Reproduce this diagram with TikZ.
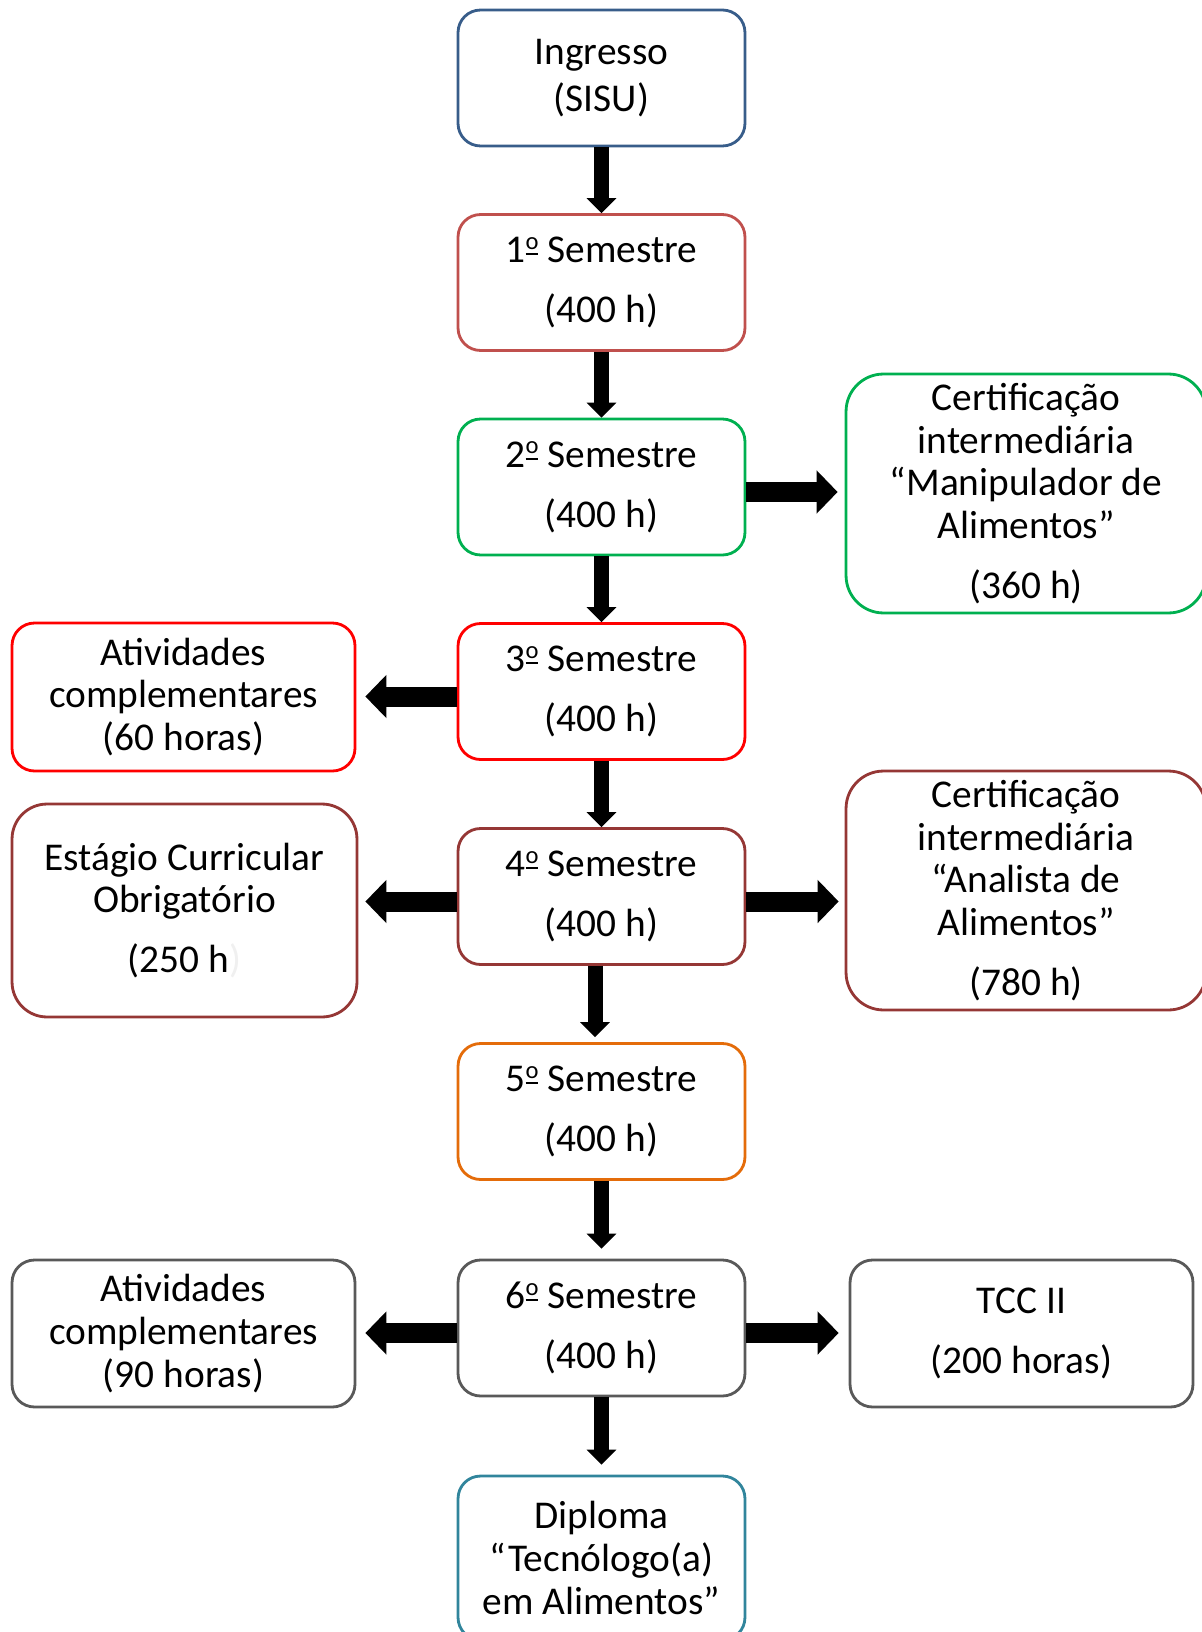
\documentclass[tikz,border=0pt]{standalone}
\usepackage{fontspec}
\setmainfont{Carlito}
\usetikzlibrary{arrows.meta}

\definecolor{ingblue}{RGB}{56,93,138}
\definecolor{semred}{RGB}{192,80,77}
\definecolor{semgreen}{RGB}{0,176,80}
\definecolor{brightred}{RGB}{255,0,0}
\definecolor{darkbrown}{RGB}{149,55,53}
\definecolor{semorange}{RGB}{228,108,10}
\definecolor{darkgray}{RGB}{89,89,89}
\definecolor{dipteal}{RGB}{49,133,156}

% underlined ordinal sign
\newcommand{\ordmark}{\rlap{\rule[4.3pt]{7.2pt}{0.9pt}}\raisebox{7.6pt}{\fontsize{14}{14}\selectfont o}}

\tikzset{
	box/.style={draw=#1, line width=1.6pt, rounded corners=0.45cm, align=center,
		inner sep=0pt, fill=white, font=\fontsize{22.4}{24.3}\selectfont,
		minimum width=5.74cm, minimum height=2.72cm},
	varrow/.style={line width=0.3cm, -{Triangle[width=0.58cm, length=0.3cm]}},
	harrow/.style={line width=0.4cm, -{Triangle[width=0.84cm, length=0.42cm]}}
}

\begin{document}
\begin{tikzpicture}[x=0.02cm, y=-0.02cm]
	
	\useasboundingbox (0, 0) rectangle (1201, 1632);
	
	% Main column
	\node[box=ingblue] (ing) at (601.5, 78) {Ingresso\\[2.4pt](SISU)};
	\node[box=semred] (s1) at (601.5, 282.5) {1\ordmark{} Semestre\\[9.8pt](400 h)};
	\node[box=semgreen] (s2) at (601.5, 487) {2\ordmark{} Semestre\\[9.8pt](400 h)};
	\node[box=brightred] (s3) at (601.5, 691.5) {3\ordmark{} Semestre\\[9.8pt](400 h)};
	\node[box=darkbrown] (s4) at (601.5, 896.5) {4\ordmark{} Semestre\\[9.8pt](400 h)};
	\node[box=semorange] (s5) at (601.5, 1111.5) {5\ordmark{} Semestre\\[9.8pt](400 h)};
	\node[box=darkgray] (s6) at (601.5, 1328) {6\ordmark{} Semestre\\[9.8pt](400 h)};
	\node[box=dipteal, minimum height=3.28cm] (dip) at (601.5, 1558)
		{Diploma\\“Tecnólogo(a)\\em Alimentos”};
	
	% Certifications on the right
	\node[box=semgreen, minimum width=7.2cm, minimum height=4.78cm, rounded corners=0.75cm]
		(man) at (1026, 493.5)
		{Certificação\\intermediária\\“Manipulador de\\Alimentos”\\[9.8pt](360 h)};
	\node[box=darkbrown, minimum width=7.2cm, minimum height=4.78cm, rounded corners=0.75cm]
		(ana) at (1026, 890.5)
		{Certificação\\intermediária\\“Analista de\\Alimentos”\\[9.8pt](780 h)};
	\node[box=darkgray, minimum width=6.86cm, minimum height=2.94cm]
		(tcc) at (1021.5, 1333.5) {TCC II\\[9.8pt](200 horas)};
	
	% Activities on the left
	\node[box=brightred, minimum width=6.86cm, minimum height=2.96cm]
		(at60) at (183.5, 697) {Atividades\\complementares\\(60 horas)};
	\node[box=darkbrown, minimum width=6.9cm, minimum height=4.26cm, rounded corners=0.7cm]
		(est) at (184.5, 910.5)
		{Estágio Curricular\\Obrigatório\\[9.8pt](250 h\textcolor{black!6}{)}};
	\node[box=darkgray, minimum width=6.86cm, minimum height=2.94cm]
		(at90) at (183.5, 1333.5) {Atividades\\complementares\\(90 horas)};
	
	% Vertical arrows
	\foreach \a/\b in {ing/s1, s1/s2, s2/s3, s3/s4} {
		\draw[varrow] (\a.south) -- (\b.north);
	}
	\draw[varrow, shorten >=0.1cm] ([xshift=-0.13cm]s4.south) -- ([xshift=-0.13cm]s4.south |- s5.north);
	\draw[varrow, shorten >=0.2cm] (s5.south) -- (s6.north);
	\draw[varrow, shorten >=0.2cm] (s6.south) -- (dip.north);
	
	% Horizontal arrows
	\draw[harrow, shorten >=0.14cm] ([yshift=-0.1cm]s2.east) -- ([yshift=-0.1cm]s2.east -| man.west);
	\draw[harrow, shorten >=0.12cm] ([yshift=-0.1cm]s4.east) -- ([yshift=-0.1cm]s4.east -| ana.west);
	\draw[harrow, shorten >=0.2cm] ([yshift=-0.1cm]s6.east) -- ([yshift=-0.1cm]s6.east -| tcc.west);
	\draw[harrow, shorten >=0.18cm] ([yshift=-0.1cm]s3.west) -- ([yshift=-0.1cm]s3.west -| at60.east);
	\draw[harrow, shorten >=0.14cm] ([yshift=-0.1cm]s4.west) -- ([yshift=-0.1cm]s4.west -| est.east);
	\draw[harrow, shorten >=0.18cm] ([yshift=-0.1cm]s6.west) -- ([yshift=-0.1cm]s6.west -| at90.east);
	
\end{tikzpicture}
\end{document}
